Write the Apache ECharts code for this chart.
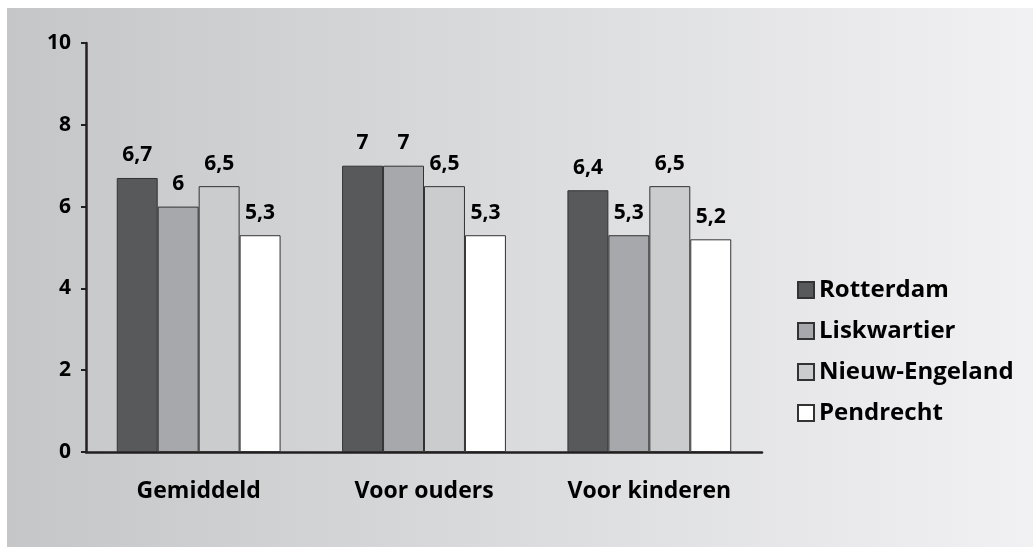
<!DOCTYPE html>
<html><head><meta charset="utf-8">
<script src="https://cdn.jsdelivr.net/npm/echarts@6/dist/echarts.min.js"></script>
<style>html,body{margin:0;padding:0;background:#fff}#c{width:1033px;height:547px}</style>
</head><body><div id="c"></div>
<script>
const categories = ['Gemiddeld', 'Voor ouders', 'Voor kinderen'];
const seriesNames = ['Rotterdam', 'Liskwartier', 'Nieuw-Engeland', 'Pendrecht'];
const rotterdam = [6.7, 7, 6.4];
const liskwartier = [6, 7, 5.3];
const nieuwEngeland = [6.5, 6.5, 6.5];
const pendrecht = [5.3, 5.3, 5.2];
const yTicks = [0, 2, 4, 6, 8, 10];

const values = [rotterdam, liskwartier, nieuwEngeland, pendrecht];
const colors = ['#58595b', '#a7a8ab', '#cbccce', '#ffffff'];
const font = '"Open Sans", "DejaVu Sans", sans-serif';

const chart = echarts.init(document.getElementById('c'));
chart.setOption({
  animation: false,
  textStyle: { fontFamily: font },
  graphic: [{
    type: 'rect', z: -10, left: 7, top: 8,
    shape: { width: 1026, height: 539 },
    style: { fill: new echarts.graphic.LinearGradient(0, 0, 1, 0, [
      { offset: 0, color: '#c5c6c8' }, { offset: 1, color: '#f1f1f3' }]) }
  }],
  grid: { left: 86, right: 271, top: 43, bottom: 95, containLabel: false },
  legend: {
    orient: 'vertical', left: 792, top: 273, itemWidth: 16, itemHeight: 16, itemGap: 17,
    icon: 'rect',
    data: seriesNames,
    textStyle: { fontFamily: font, fontWeight: 'bold', fontSize: 24, color: '#000' }
  },
  xAxis: {
    type: 'category', data: categories,
    axisLine: { lineStyle: { color: '#231f20', width: 2.5 } },
    axisTick: { length: 6, lineStyle: { color: '#231f20', width: 2 } },
    axisLabel: { fontFamily: font, fontWeight: 'bold', fontSize: 23, color: '#000', margin: 28 }
  },
  yAxis: {
    type: 'value', min: 0, max: 10, interval: 2,
    axisLine: { show: true, lineStyle: { color: '#231f20', width: 2.5 } },
    axisTick: { show: true, length: 5, lineStyle: { color: '#231f20', width: 2 } },
    splitLine: { show: false },
    axisLabel: { fontFamily: font, fontWeight: 'bold', fontSize: 21, color: '#000', margin: 15,
      formatter: v => yTicks.includes(v) ? String(v) : '' }
  },
  series: seriesNames.map((name, i) => ({
    name, type: 'bar', data: values[i],
    barGap: '0%', barCategoryGap: '27.3%',
    itemStyle: { color: colors[i], borderColor: '#333', borderWidth: 1 },
    label: { show: true, position: 'top', distance: 12, fontFamily: font, fontWeight: 'bold',
      fontSize: 21, color: '#000', formatter: p => String(p.value).replace('.', ',') }
  }))
});
</script></body></html>
